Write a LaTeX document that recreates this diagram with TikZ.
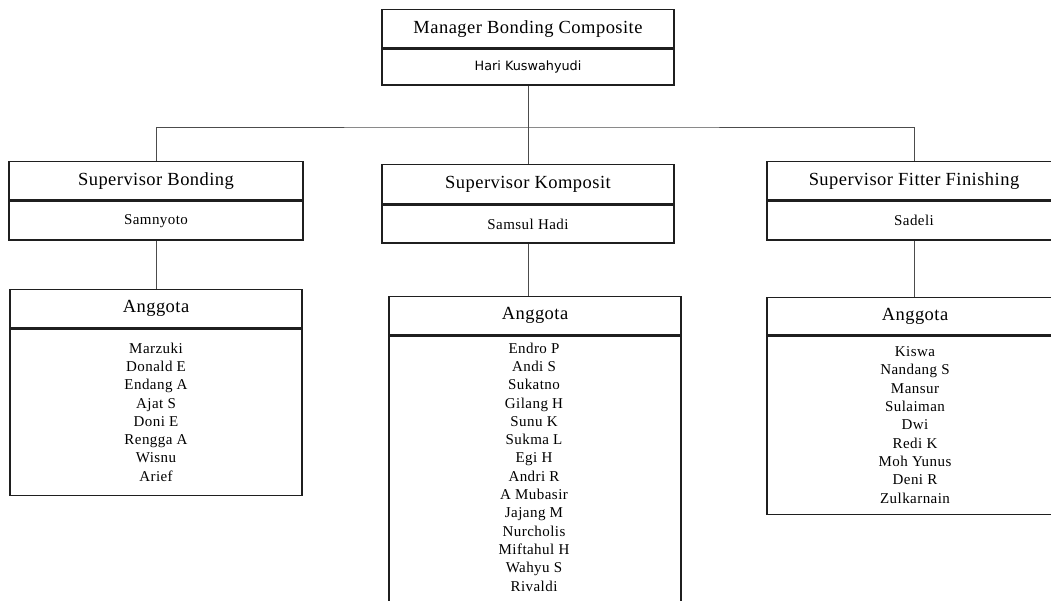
\documentclass[tikz,border=0pt]{standalone}
\usepackage{fontspec}
\setmainfont{Liberation Serif}
\newfontfamily\titlefont[LetterSpace=2.5]{Liberation Serif}
\newfontfamily\listfont[LetterSpace=3]{Liberation Serif}
\newfontfamily\plainsans{DejaVu Sans}
\begin{document}
\begin{tikzpicture}[x=1pt,y=-1pt,
  cell/.style={draw=black!88, line width=1.5pt, rectangle, inner sep=0pt, anchor=north},
  head/.style={cell, font=\titlefont\fontsize{18.5}{22}\selectfont},
  who/.style={cell, font=\listfont\fontsize{15}{18}\selectfont},
  members/.style={anchor=north, inner sep=0pt, align=center,
    font=\listfont\fontsize{15}{18.3}\selectfont},
  link/.style={draw=black!70, line width=0.9pt}]
\clip (0,0) rectangle (1051,601);
\fill[white] (0,0) rectangle (1051,601);

% manager
\node[head, minimum width=292, minimum height=38] (mgr) at (528,9) {Manager Bonding Composite};
\node[cell, minimum width=292, minimum height=36,
  font=\plainsans\fontsize{12.8}{15}\selectfont] (mgrname) at (mgr.south) {Hari Kuswahyudi};

% supervisors
\node[head, minimum width=294, minimum height=38] (supB) at (156,161) {Supervisor Bonding};
\node[who, minimum width=294, minimum height=39] (supBname) at (supB.south) {Samnyoto};

\node[head, minimum width=292, minimum height=39] (supK) at (528,164) {Supervisor Komposit};
\node[who, minimum width=292, minimum height=38] (supKname) at (supK.south) {Samsul Hadi};

\node[head, minimum width=294, minimum height=38] (supF) at (914,161) {Supervisor Fitter Finishing};
\node[who, minimum width=294, minimum height=39] (supFname) at (supF.south) {Sadeli};

% member groups
\node[head, minimum width=292, minimum height=38] (angB) at (156,289) {Anggota};
\node[cell, minimum width=292, minimum height=166] (angBbody) at (angB.south) {};
\node[members] (angBlist) at (156,342.5) {Marzuki\\Donald E\\Endang A\\Ajat S\\Doni E\\Rengga A\\Wisnu\\Arief};

\node[head, minimum width=292, minimum height=38] (angK) at (535,296) {Anggota};
\node[cell, minimum width=292, minimum height=300] (angKbody) at (angK.south) {};
\node[members] (angKlist) at (534,342.5) {Endro P\\Andi S\\Sukatno\\Gilang H\\Sunu K\\Sukma L\\Egi H\\Andri R\\A Mubasir\\Jajang M\\Nurcholis\\Miftahul H\\Wahyu S\\Rivaldi};

\node[head, minimum width=296, minimum height=37] (angF) at (915,297) {Anggota};
\node[cell, minimum width=296, minimum height=178] (angFbody) at (angF.south) {};
\node[members] (angFlist) at (915,346.5) {Kiswa\\Nandang S\\Mansur\\Sulaiman\\Dwi\\Redi K\\Moh Yunus\\Deni R\\Zulkarnain};

% connectors
\coordinate (bus) at (528,127);
\draw[link] (mgrname.south) -- (supK.north);
\draw[link] (supB.north) |- (bus) -| (supF.north);
\draw[link] (supBname.south) -- (angB.north);
\draw[link] (supKname.south) -- (supKname.south |- angK.north);
\draw[link] (supFname.south) -- (supFname.south |- angF.north);
\end{tikzpicture}
\end{document}
